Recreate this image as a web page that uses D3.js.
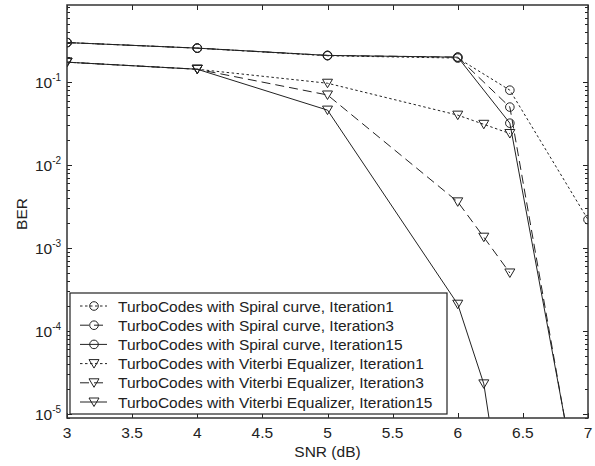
<!DOCTYPE html>
<html>
<head>
<meta charset="utf-8">
<script src="https://cdn.jsdelivr.net/npm/d3@7"></script>
<style>
  body { margin: 0; background: #fff; }
  text { font-family: "Liberation Sans", Arial, sans-serif; fill: #222; }
</style>
</head>
<body>
<div id="chart-area"></div>
<script>
// data
const snr = [3, 4, 5, 6, 6.4, 7]
const spiralIt1 = [0.30, 0.257, 0.208, 0.195, 0.080, 0.0022]
const spiralIt3 = [0.30, 0.257, 0.21, 0.20, 0.050, 2.2e-7]
const spiralIt15 = [0.30, 0.257, 0.21, 0.20, 0.032, 2.7e-7]
const snrV = [3, 4, 5, 6, 6.2, 6.4]
const viterbiIt1 = [0.174, 0.143, 0.097, 0.040, 0.031, 0.024]
const viterbiIt3 = [0.174, 0.143, 0.070, 0.0036, 0.00135, 0.0005]
const viterbiIt15 = [0.174, 0.143, 0.046, 0.00021, 2.3e-5, 2e-7]
const xTicks = [3, 3.5, 4, 4.5, 5, 5.5, 6, 6.5, 7]
const yExps = [-5, -4, -3, -2, -1]
const legendLabels = [
    "TurboCodes with Spiral curve, Iteration1",
    "TurboCodes with Spiral curve, Iteration3",
    "TurboCodes with Spiral curve, Iteration15",
    "TurboCodes with Viterbi Equalizer, Iteration1",
    "TurboCodes with Viterbi Equalizer, Iteration3",
    "TurboCodes with Viterbi Equalizer, Iteration15"
]

const series = [
    { x: snr, y: spiralIt1, dash: "2.5,2.5", mark: "circle" },
    { x: snr, y: spiralIt3, dash: "9,5", mark: "circle" },
    { x: snr, y: spiralIt15, dash: null, mark: "circle" },
    { x: snrV, y: viterbiIt1, dash: "2.5,2.5", mark: "tri" },
    { x: snrV, y: viterbiIt3, dash: "9,5", mark: "tri" },
    { x: snrV, y: viterbiIt15, dash: null, mark: "tri" }
]

const MARGIN = { left: 67, right: 7, top: 5, bottom: 48 }
const WIDTH = 595 - MARGIN.left - MARGIN.right
const HEIGHT = 466 - MARGIN.top - MARGIN.bottom
const INK = "#222"
const FONT = "15.5px"

const svg = d3.select("#chart-area").append("svg")
    .attr("width", 595)
    .attr("height", 466)

const g = svg.append("g")
    .attr("transform", `translate(${MARGIN.left}, ${MARGIN.top})`)

const x = d3.scaleLinear().domain([3, 7]).range([0, WIDTH])
const y = d3.scaleLog().domain([Math.pow(10, -5.05), Math.pow(10, -0.07)]).range([HEIGHT, 0])

svg.append("defs").append("clipPath").attr("id", "clip")
    .append("rect").attr("width", WIDTH).attr("height", HEIGHT)

// ticks, inside on all sides
const ticks = g.append("g").attr("stroke", INK).attr("stroke-width", 1)
xTicks.forEach(t => {
    const px = Math.round(x(t)) + 0.5
    ticks.append("line").attr("x1", px).attr("x2", px).attr("y1", HEIGHT).attr("y2", HEIGHT - 5)
    ticks.append("line").attr("x1", px).attr("x2", px).attr("y1", 0).attr("y2", 5)
})
const [yLo, yHi] = y.domain()
for (let e = -6; e <= 0; e++) {
    for (let m = 1; m <= 9; m++) {
        const v = m * Math.pow(10, e)
        if (v < yLo || v > yHi) continue
        const py = Math.round(y(v)) + 0.5
        const len = m === 1 ? 5 : 3
        ticks.append("line").attr("x1", 0).attr("x2", len).attr("y1", py).attr("y2", py)
        ticks.append("line").attr("x1", WIDTH).attr("x2", WIDTH - len).attr("y1", py).attr("y2", py)
    }
}

// tick labels
g.selectAll(".xlab").data(xTicks).enter().append("text")
    .attr("class", "xlab")
    .attr("x", d => x(d))
    .attr("y", HEIGHT + 20)
    .attr("text-anchor", "middle")
    .attr("font-size", FONT)
    .text(d => d)

const ylab = g.selectAll(".ylab").data(yExps).enter().append("text")
    .attr("class", "ylab")
    .attr("x", -32)
    .attr("y", d => y(Math.pow(10, d)) + 6)
    .attr("font-size", FONT)
ylab.append("tspan").text("10")
ylab.append("tspan").attr("dy", -7).attr("font-size", "10px").text(d => d)

// axis titles
g.append("text")
    .attr("x", WIDTH / 2)
    .attr("y", HEIGHT + 39)
    .attr("text-anchor", "middle")
    .attr("font-size", FONT)
    .text("SNR (dB)")

g.append("text")
    .attr("x", -209)
    .attr("y", -40)
    .attr("text-anchor", "middle")
    .attr("font-size", FONT)
    .attr("transform", "rotate(-90)")
    .text("BER")

// markers
function drawMark(sel, kind, cx, cy) {
    if (kind === "circle") {
        sel.append("circle").attr("cx", cx).attr("cy", cy).attr("r", 4.3)
            .attr("fill", "none").attr("stroke", INK).attr("stroke-width", 1)
    } else {
        sel.append("path")
            .attr("d", `M${cx - 5},${cy - 4}L${cx + 5},${cy - 4}L${cx},${cy + 4.5}Z`)
            .attr("fill", "none").attr("stroke", INK).attr("stroke-width", 1)
    }
}

const plot = g.append("g").attr("clip-path", "url(#clip)")
const line = d3.line().x(d => x(d[0])).y(d => y(d[1]))
series.forEach(s => {
    const pts = s.x.map((v, i) => [v, s.y[i]])
    plot.append("path")
        .attr("d", line(pts))
        .attr("fill", "none")
        .attr("stroke", INK)
        .attr("stroke-width", 1)
        .attr("stroke-dasharray", s.dash)
    pts.forEach(p => drawMark(plot, s.mark, x(p[0]), y(p[1])))
})

// frame
g.append("rect")
    .attr("width", WIDTH).attr("height", HEIGHT)
    .attr("fill", "none").attr("stroke", "#333").attr("stroke-width", 1.5)

// legend
const lg = g.append("g").attr("transform", "translate(3, 288)")
lg.append("rect")
    .attr("width", 377).attr("height", 121)
    .attr("fill", "#fff").attr("stroke", INK).attr("stroke-width", 1.2)
legendLabels.forEach((lab, i) => {
    const s = series[i]
    const ly = 13 + i * 19.2
    lg.append("line")
        .attr("x1", 10).attr("x2", 37).attr("y1", ly).attr("y2", ly)
        .attr("stroke", INK).attr("stroke-width", 1)
        .attr("stroke-dasharray", s.dash)
    drawMark(lg, s.mark, 24, ly)
    lg.append("text")
        .attr("x", 48).attr("y", ly + 5.5)
        .attr("font-size", FONT)
        .text(lab)
})
</script>
</body>
</html>
